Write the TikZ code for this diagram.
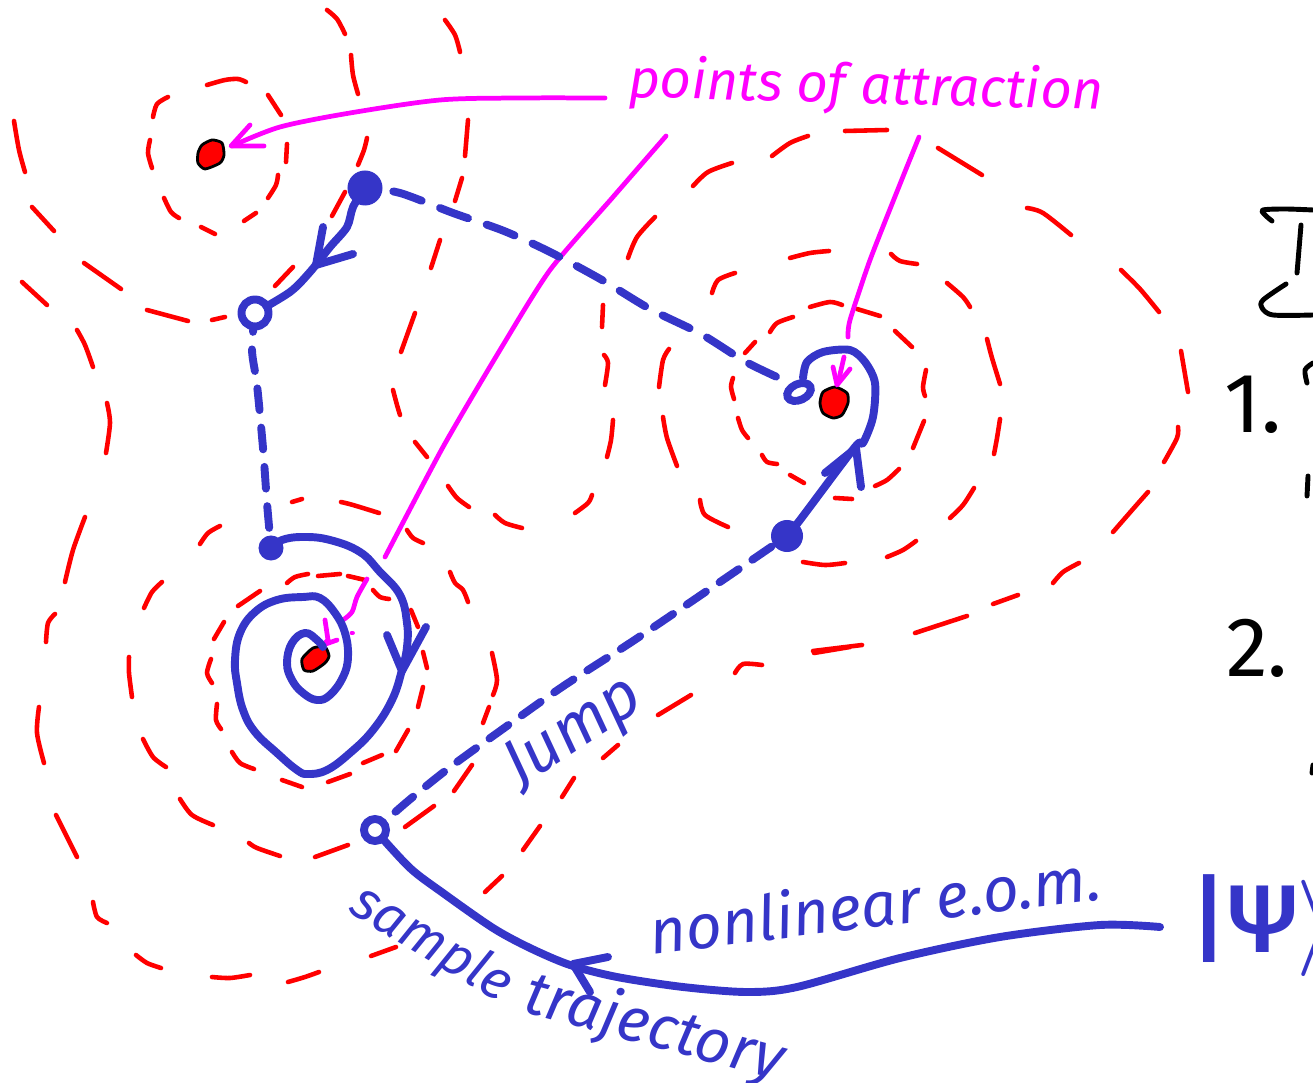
\documentclass[tikz,border=0pt]{standalone}
\usepackage{fontspec}
\setmainfont{Fira Sans}
\newfontfamily\ketfont{Fira Sans Medium}
\usetikzlibrary{shapes.geometric}
\definecolor{sketchred}{RGB}{255,0,0}
\definecolor{sketchblue}{RGB}{53,53,200}
\definecolor{sketchpink}{RGB}{255,0,255}
\pgfdeclarelayer{front}
\pgfsetlayers{main,front}

\begin{document}
\begin{tikzpicture}[
    x=0.01cm, y=-0.01cm,
    contour/.style={sketchred, line width=1.3pt, line cap=round, line join=round},
    pointer/.style={sketchpink, line width=1.35pt, line cap=round, line join=round},
    traj/.style={sketchblue, line width=2.25pt, line cap=round, line join=round},
    jumpa/.style={traj, dash pattern=on 8.5pt off 5.6pt},
    jumpb/.style={traj, dash pattern=on 6.2pt off 5pt},
    jumpc/.style={traj, dash pattern=on 6.6pt off 4.7pt},
    fulldot/.style={circle, fill=sketchblue, inner sep=0pt},
    opendot/.style={circle, draw=sketchblue, fill=white, line width=2.25pt, inner sep=0pt},
    attract/.style={fill=sketchred, draw=black, line width=0.8pt, line join=round},
    ink/.style={black, line width=1.4pt, line cap=round, line join=round},
    hand/.style={font=\itshape\fontsize{15.5}{18}\selectfont, text=sketchblue, inner sep=0pt},
    digit/.style={font=\fontsize{24}{28}\selectfont, text=black, inner sep=0pt}
]
\useasboundingbox (0,0) rectangle (1313,1083);

% ---- dashed contours ----
\draw[contour]
  plot[smooth] coordinates {(327,10) (337,19) (345,34)}
  plot[smooth] coordinates {(445,20) (455,35) (460,52)}
  plot[smooth] coordinates {(351,55) (353,75) (358,94)}
  plot[smooth] coordinates {(468,120) (465,156)}
  plot[smooth] coordinates {(367,138) (364,150) (358,165)}
  plot[smooth] coordinates {(462,178) (455,201)}
  plot[smooth] coordinates {(345,192) (332,216)}
  plot[smooth] coordinates {(440,240) (431,268)}
  plot[smooth] coordinates {(293,267) (275,286)}
  plot[smooth] coordinates {(415,313) (401,352)}
  plot[smooth] coordinates {(393,390) (397,405) (400,415)}
  plot[smooth] coordinates {(14,121) (19,150) (25,172)}
  plot[smooth] coordinates {(32,207) (54,231)}
  plot[smooth] coordinates {(84,263) (121,289)}
  plot[smooth] coordinates {(22,282) (47,305)}
  plot[smooth] coordinates {(147,310) (188,321)}
  plot[smooth] coordinates {(212,320) (225,317)}
  plot[smooth] coordinates {(77,330) (85,345) (93,367)}
  plot[smooth] coordinates {(207,85) (225,80) (238,79) (246,82)}
  plot[smooth] coordinates {(168,97) (157,104) (153,117)}
  plot[smooth] coordinates {(268,95) (281,115)}
  plot[smooth] coordinates {(150,140) (148,153) (152,168)}
  plot[smooth] coordinates {(287,144) (286,162)}
  plot[smooth] coordinates {(278,175) (276,185) (268,198)}
  plot[smooth] coordinates {(164,198) (171,212) (179,218)}
  plot[smooth] coordinates {(244,221) (256,213)}
  plot[smooth] coordinates {(201,227) (215,234)}
  plot[smooth] coordinates {(415,442) (427,457)}
  plot[smooth] coordinates {(448,486) (457,498) (469,507)}
  plot[smooth] coordinates {(495,515) (505,523) (522,528)}
  plot[smooth] coordinates {(407,530) (413,538) (423,543)}
  plot[smooth] coordinates {(575,513) (588,503) (592,495)}
  plot[smooth] coordinates {(613,420) (611,440) (607,457)}
  plot[smooth] coordinates {(603,305) (602,327)}
  plot[smooth] coordinates {(604,355) (608,363) (605,385)}
  plot[smooth] coordinates {(655,217) (637,237) (628,258)}
  plot[smooth] coordinates {(693,186) (708,172) (732,163)}
  plot[smooth] coordinates {(772,156) (790,143) (808,136)}
  plot[smooth] coordinates {(845,131) (887,130)}
  plot[smooth] coordinates {(712,293) (718,280) (735,273)}
  plot[smooth] coordinates {(790,258) (810,253) (829,251)}
  plot[smooth] coordinates {(669,349) (663,360) (659,387)}
  plot[smooth] coordinates {(663,417) (667,438) (677,466)}
  plot[smooth] coordinates {(700,500) (705,515) (728,527)}
  plot[smooth] coordinates {(745,353) (755,342)}
  plot[smooth] coordinates {(770,332) (777,323) (793,317)}
  plot[smooth] coordinates {(810,307) (830,302) (842,305)}
  plot[smooth] coordinates {(733,378) (731,387) (734,399)}
  plot[smooth] coordinates {(738,418) (742,430) (748,438)}
  plot[smooth] coordinates {(762,455) (767,462) (777,464)}
  plot[smooth] coordinates {(790,475) (804,483)}
  plot[smooth] coordinates {(835,498) (852,499)}
  plot[smooth] coordinates {(938,148) (982,175)}
  plot[smooth] coordinates {(1027,208) (1043,213) (1071,235)}
  plot[smooth] coordinates {(1121,270) (1140,289) (1159,312)}
  plot[smooth] coordinates {(1181,351) (1188,392)}
  plot[smooth] coordinates {(1178,427) (1177,438) (1164,462)}
  plot[smooth] coordinates {(1148,492) (1133,509) (1113,532)}
  plot[smooth] coordinates {(1079,563) (1063,572) (1053,583)}
  plot[smooth] coordinates {(1018,595) (993,604)}
  plot[smooth] coordinates {(967,616) (915,633)}
  plot[smooth] coordinates {(862,645) (813,651)}
  plot[smooth] coordinates {(891,254) (900,261) (917,264)}
  plot[smooth] coordinates {(947,283) (963,297) (970,307)}
  plot[smooth] coordinates {(987,339) (992,358) (1000,384)}
  plot[smooth] coordinates {(1000,419) (997,438) (994,454)}
  plot[smooth] coordinates {(974,488) (963,505) (950,518)}
  plot[smooth] coordinates {(916,541) (903,550) (887,557)}
  plot[smooth] coordinates {(845,563) (825,565) (803,562)}
  plot[smooth] coordinates {(857,309) (880,316)}
  plot[smooth] coordinates {(895,331) (912,347)}
  plot[smooth] coordinates {(926,370) (923,387) (925,396)}
  plot[smooth] coordinates {(924,421) (913,448)}
  plot[smooth] coordinates {(899,469) (887,480) (875,486)}
  plot[smooth] coordinates {(107,403) (110,423) (106,453)}
  plot[smooth] coordinates {(85,517) (73,550) (65,582)}
  plot[smooth] coordinates {(55,614) (48,623) (46,642)}
  plot[smooth] coordinates {(129,657) (129,673) (132,697)}
  plot[smooth] coordinates {(39,707) (37,733) (44,763)}
  plot[smooth] coordinates {(162,582) (152,592) (144,608)}
  plot[smooth] coordinates {(220,526) (208,533) (200,544)}
  plot[smooth] coordinates {(292,502) (302,499)}
  plot[smooth] coordinates {(341,502) (353,505) (379,513)}
  plot[smooth] coordinates {(450,572) (455,583) (463,590) (468,602)}
  plot[smooth] coordinates {(492,653) (497,680) (493,695)}
  plot[smooth] coordinates {(489,707) (483,723)}
  plot[smooth] coordinates {(287,583) (295,577) (308,574)}
  plot[smooth] coordinates {(318,576) (340,574)}
  plot[smooth] coordinates {(348,576) (365,580)}
  plot[smooth] coordinates {(373,590) (380,597) (389,599)}
  plot[smooth] coordinates {(411,610) (418,627)}
  plot[smooth] coordinates {(423,652) (427,668)}
  plot[smooth] coordinates {(423,687) (418,707)}
  plot[smooth] coordinates {(408,730) (396,751)}
  plot[smooth] coordinates {(382,755) (363,763)}
  plot[smooth] coordinates {(350,774) (328,782)}
  plot[smooth] coordinates {(302,787) (282,780)}
  plot[smooth] coordinates {(254,769) (240,763) (232,752)}
  plot[smooth] coordinates {(221,729) (216,720) (217,704)}
  plot[smooth] coordinates {(212,683) (207,673) (211,659)}
  plot[smooth] coordinates {(214,639) (224,622)}
  plot[smooth] coordinates {(238,606) (260,591)}
  plot[smooth] coordinates {(143,739) (153,757) (166,767)}
  plot[smooth] coordinates {(180,799) (192,815) (213,825)}
  plot[smooth] coordinates {(249,843) (257,848) (280,856)}
  plot[smooth] coordinates {(315,857) (348,845)}
  plot[smooth] coordinates {(405,827) (434,806)}
  plot[smooth] coordinates {(454,791) (472,765)}
  plot[smooth] coordinates {(56,815) (77,857)}
  plot[smooth] coordinates {(93,902) (97,917) (107,923)}
  plot[smooth] coordinates {(136,955) (147,963) (161,968)}
  plot[smooth] coordinates {(212,977) (230,978) (250,975)}
  plot[smooth] coordinates {(288,982) (305,977) (319,972)}
  plot[smooth] coordinates {(371,956) (396,947)}
  plot[smooth] coordinates {(485,892) (502,876)}
  plot[smooth] coordinates {(523,850) (540,826)}
  plot[smooth] coordinates {(562,797) (574,778)}
  plot[smooth] coordinates {(603,758) (618,745)}
  plot[smooth] coordinates {(658,715) (691,695)}
  plot[smooth] coordinates {(735,673) (743,664) (762,665)}
  plot[smooth] coordinates {(814,653) (850,647)};

% ---- points of attraction ----
\draw[attract] plot[smooth cycle, tension=0.4] coordinates {(198,153) (202,145) (212,140) (222,143) (224,155) (220,163) (205,169) (198,163)};
\draw[attract] plot[smooth cycle, tension=0.4] coordinates {(820,403) (823,392) (835,387) (847,393) (848,403) (842,415) (833,418) (823,413)};
\draw[attract] plot[smooth cycle, tension=0.4] coordinates {(302,659) (313,648) (325,647) (329,656) (325,663) (313,671) (304,670)};

% ---- pointers ----
\node[hand, text=sketchpink, rotate=-1.5] (title) at (866,88) {points of attraction};
\draw[pointer] plot[smooth] coordinates {(605,98) (520,98) (440,100) (350,113) (280,127) (232,146)};
\draw[pointer] (250,125) -- (231,146) -- (264,146);
\draw[pointer] plot[smooth, tension=0.4] coordinates {(666,136) (613,197) (550,270) (500,350) (443,447) (385,557)};
\draw[pointer] plot[smooth] coordinates {(367,579) (357,597) (352,612) (343,620)};
\draw[pointer] (325,620) -- (328,640) -- (323,645) -- (337,640);
\draw[pointer] (352,633) -- (352.5,633);
\draw[pointer] plot[smooth, tension=0.4] coordinates {(919,137) (900,184) (870,260) (850,320) (848,337)};
\draw[pointer] (844,357) -- (838,383);
\draw[pointer] (833,367) -- (837,385) -- (850,369);

% ---- trajectory nodes ----
\begin{pgfonlayer}{front}
\node[fulldot, minimum size=0.35cm] (dotTop) at (365,188) {};
\node[opendot, minimum size=0.27cm] (dotOpenA) at (255,313) {};
\node[fulldot, minimum size=0.25cm] (dotSpiral) at (271,548) {};
\node[opendot, minimum size=0.22cm] (dotOpenB) at (375,830) {};
\node[fulldot, minimum size=0.32cm] (dotJump) at (787,536) {};
\node[opendot, ellipse, minimum width=0.25cm, minimum height=0.16cm, rotate=25] (dotLoop) at (799,392) {};
\end{pgfonlayer}
\coordinate (ketEnd) at (1160,927);

% ---- jumps ----
\draw[jumpa, dash phase=6pt] plot[smooth] coordinates {(dotTop) (400,193) (453,213) (504,231) (550,252) (602,280) (650,309) (701,334) (746,362) (790,383)};
\draw[jumpb, dash phase=12pt] plot[smooth] coordinates {(dotOpenA) (252,350) (257,385) (263,448) (267,503) (dotSpiral)};
\draw[jumpc, dash phase=3.5pt] plot[smooth] coordinates {(dotOpenB) (408,801) (449,768) (500,731) (562,687) (630,643) (698,597) (dotJump)};

% ---- solid trajectory ----
\draw[traj] plot[smooth] coordinates {(dotTop) (353,207) (347,227) (330,247) (310,272) (290,292) (dotOpenA)};
\draw[traj] (323,227) -- (316,265) -- (353,254);
\draw[traj] plot[smooth, tension=0.7] coordinates {(dotSpiral) (282,540) (303,537) (330,540) (360,552) (380,572) (400,595) (407,623) (407,647) (402,670) (392,700) (373,730) (350,753) (327,770) (308,774) (297,770) (277,753) (255,732) (243,710) (237,683) (235,660) (240,633) (255,612) (277,600) (303,597) (320,598) (335,613) (345,633) (348,657) (343,677) (330,695) (317,700) (303,693) (292,680) (287,663) (292,643) (305,633) (317,640) (323,647)};
\draw[traj] (387,635) -- (402,671) -- (426,627);
\draw[traj] plot[smooth] coordinates {(dotJump) (800,520) (855,447) (863,443) (873,417) (875,383) (865,362) (850,350) (823,352) (807,362) (803,378)};
\draw[traj] (825,473) -- (856,448) -- (861,487);
\draw[traj] plot[smooth] coordinates {(ketEnd) (1100,925) (1000,937) (900,958) (797,987) (747,992) (683,987) (617,977) (570,965) (530,948) (493,928) (443,893) (410,868) (dotOpenB)};
\draw[traj] (608,957) -- (573,964) -- (590,992);

% ---- labels ----
\node[hand, font=\itshape\fontsize{18.5}{22}\selectfont, rotate=33] (labJump) at (575,734) {Jump};
\node[hand, font=\itshape\fontsize{17.8}{22}\selectfont, rotate=7] (labEom) at (875,903) {nonlinear e.o.m.};
\node[hand, rotate=-31] (labSample) at (431,945) {sample};
\node[hand, font=\itshape\fontsize{17.5}{22}\selectfont, rotate=-15] (labTraj) at (654,1029) {trajectory};
\node[anchor=west, text=sketchblue, inner sep=0pt, scale=1.1, font=\Huge\ketfont] (labKet) at (1190,926) {|Ψ$\rangle$};

% ---- cut off ink on the right ----
\node[digit] (numOne) at (1253,405) {1.};
\node[digit] (numTwo) at (1257,648) {2.};
\draw[ink] plot[smooth] coordinates {(1272,221) (1265,215) (1263,210) (1285,209) (1313,210)};
\draw[ink] (1301,225) -- (1297,273);
\draw[ink] plot[smooth] coordinates {(1286,284) (1263,300) (1262,308) (1273,315) (1313,315)};
\draw[ink] plot[smooth] coordinates {(1313,363) (1305,370) (1307,383)};
\draw[ink] (1308,476) -- (1307,496);
\draw[ink] (1313,765) -- (1312,773);
\end{tikzpicture}
\end{document}
